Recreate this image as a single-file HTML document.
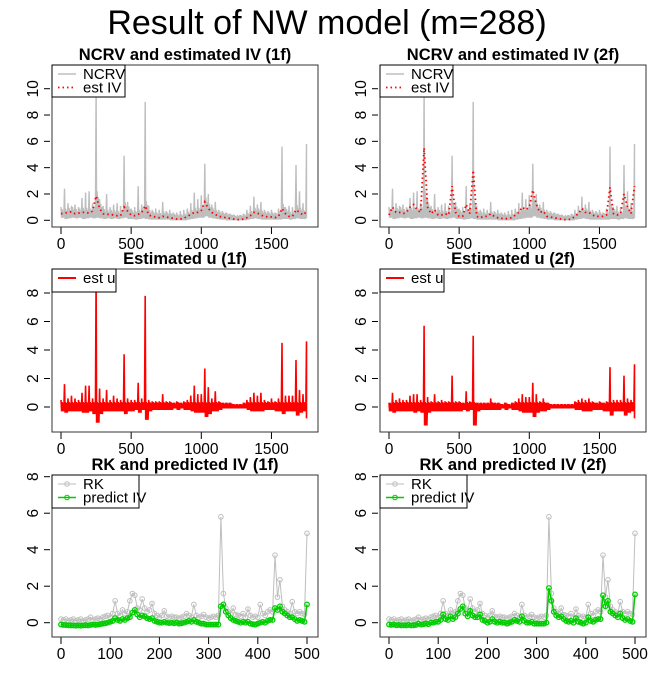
<!DOCTYPE html>
<html><head><meta charset="utf-8">
<style>
body{margin:0;background:#fff;}
svg{display:block;font-family:"Liberation Sans",sans-serif;}
</style></head>
<body>
<svg id="fig" width="654" height="681" viewBox="0 0 654 681" xmlns="http://www.w3.org/2000/svg">
<rect x="0" y="0" width="654" height="681" fill="#fff"/>
<text x="327" y="34" font-size="34" text-anchor="middle">Result of NW model (m=288)</text>
</svg>
<script>
// ---- data (x step 25 for 1750-length series, x step 5 for 500-length series) ----
const ncrvMax = [1.0,2.4,1.3,1.1,1.2,1.0,1.7,2.1,2.2,1.3, 10.0,1.6,1.1,2.0,1.0,1.2,1.3,1.1,4.9,1.4, 0.9,1.0,2.6,1.2,9.0,1.1,0.8,0.9,0.8,1.4, 0.7,0.8,0.6,0.6,0.7,0.8,0.9,1.3,2.1,1.6, 1.9,4.3,2.0,1.2,1.4,0.8,0.7,0.6,0.5,0.4, 0.3,0.4,0.5,0.8,1.1,1.8,1.2,1.4,0.8,0.7, 0.8,0.6,0.9,5.6,1.0,1.1,1.0,4.2,2.2,1.3, 5.8];
const ncrvMin = [0.2,0.1,0.15,0.2,0.15,0.2,0.1,0.15,0.2,0.15, 0.2,0.15,0.1,0.15,0.1,0.15,0.1,0.15,0.2,0.1, 0.1,0.05,0.1,0.15,0.1,0.05,0.05,0.05,0.05,0.05, 0.05,0.0,0.0,0.0,0.0,0.0,0.05,0.1,0.15,0.2, 0.2,0.3,0.2,0.15,0.1,0.05,0.05,0.0,0.0,0.0, 0.0,0.0,0.0,0.05,0.1,0.15,0.1,0.05,0.05,0.05, 0.05,0.05,0.05,0.1,0.1,0.05,0.1,0.15,0.1,0.1, 0.2];
const estIV1 = [0.5,0.55,0.6,0.65,0.5,0.55,0.6,0.6,0.55,0.7, 1.85,0.9,0.5,0.45,0.45,0.4,0.35,0.35,1.0,0.7, 0.4,0.35,0.45,0.6,1.1,0.4,0.3,0.25,0.2,0.3, 0.25,0.2,0.15,0.1,0.1,0.15,0.3,0.45,0.6,0.6, 0.75,1.4,0.9,0.6,0.45,0.3,0.25,0.2,0.15,0.1, 0.05,0.05,0.1,0.2,0.35,0.6,0.55,0.4,0.3,0.25, 0.25,0.2,0.3,0.9,0.5,0.3,0.3,0.8,0.6,0.4, 0.65];
const estIV2 = [0.4,1.0,0.6,0.6,0.5,0.6,1.0,1.2,0.8,0.6, 5.5,1.0,0.5,0.8,0.4,0.4,0.5,0.4,2.6,0.6, 0.3,0.3,1.2,0.5,3.8,0.3,0.2,0.3,0.3,0.5, 0.3,0.2,0.15,0.1,0.15,0.2,0.4,0.6,1.0,0.8, 1.0,2.3,1.2,0.6,0.7,0.3,0.25,0.2,0.15,0.1, 0.05,0.05,0.1,0.3,0.5,0.9,0.6,0.6,0.4,0.3, 0.3,0.3,0.4,2.5,0.5,0.4,0.5,2.0,1.0,0.5, 2.6];
const uHi1 = [0.5,1.6,0.6,0.8,0.6,0.5,1.0,1.5,1.5,0.6, 9.3,1.3,0.6,1.2,0.5,0.8,0.6,0.5,3.7,0.6, 0.5,0.5,1.7,0.6,7.8,0.5,0.4,0.4,0.4,0.9, 0.4,0.4,0.3,0.4,0.3,0.4,0.5,0.8,1.5,0.9, 0.9,2.7,1.4,0.6,1.1,0.4,0.3,0.3,0.3,0.2, 0.2,0.2,0.3,0.5,0.7,1.0,0.8,1.0,0.5,0.4, 0.6,0.4,0.6,4.5,0.8,0.8,0.8,3.3,1.2,0.9, 4.6];
const uLo1 = [-0.3,-0.4,-0.3,-0.3,-0.3,-0.3,-0.4,-0.4,-0.3,-0.5, -1.1,-0.5,-0.3,-0.3,-0.3,-0.3,-0.3,-0.3,-0.5,-0.3, -0.3,-0.2,-0.4,-0.2,-0.9,-0.3,-0.2,-0.2,-0.2,-0.2, -0.2,-0.2,-0.1,-0.2,-0.1,-0.2,-0.2,-0.3,-0.4,-0.4, -0.4,-0.7,-0.5,-0.3,-0.3,-0.2,-0.1,-0.1,-0.1,-0.1, -0.1,-0.1,-0.1,-0.2,-0.3,-0.3,-0.3,-0.3,-0.2,-0.2, -0.2,-0.3,-0.3,-0.5,-0.3,-0.3,-0.3,-0.6,-0.4,-0.3, -0.8];
const uHi2 = [0.3,1.0,0.5,0.6,0.5,0.5,0.8,0.9,0.9,0.5, 5.7,0.7,0.4,0.9,0.4,0.5,0.4,0.4,2.2,0.4, 0.4,0.3,1.1,0.4,5.0,0.3,0.3,0.3,0.3,0.6, 0.3,0.3,0.2,0.3,0.2,0.3,0.4,0.6,0.9,0.7, 0.7,1.7,0.9,0.4,0.6,0.3,0.2,0.2,0.2,0.2, 0.2,0.2,0.2,0.4,0.5,0.6,0.5,0.6,0.4,0.3, 0.4,0.3,0.4,2.8,0.5,0.5,0.5,2.2,0.6,0.5, 3.0];
const uLo2 = [-0.3,-0.4,-0.3,-0.3,-0.3,-0.3,-0.3,-0.4,-0.3,-0.4, -1.3,-0.4,-0.3,-0.3,-0.3,-0.3,-0.3,-0.3,-0.3,-0.3, -0.3,-0.2,-0.3,-0.2,-1.3,-0.3,-0.2,-0.2,-0.2,-0.2, -0.2,-0.2,-0.1,-0.2,-0.1,-0.2,-0.2,-0.3,-0.4,-0.4, -0.4,-0.7,-0.4,-0.3,-0.3,-0.2,-0.1,-0.1,-0.1,-0.1, -0.1,-0.1,-0.1,-0.2,-0.2,-0.3,-0.3,-0.3,-0.2,-0.2, -0.2,-0.3,-0.3,-0.6,-0.3,-0.3,-0.3,-0.6,-0.4,-0.3, -0.8];
const rk = [0.2,0.15,0.2,0.1,0.15,0.2,0.1,0.15,0.2,0.1,0.15,0.2,0.3, 0.15,0.2,0.25,0.2,0.3,0.35,0.4,0.3, 0.5,1.2,0.5,0.4,0.7,0.5,0.6,1.2,1.6,1.5,0.8,0.7,1.3,0.8,0.6,0.7,1.05,0.5,0.4,0.3, 0.4,0.65,0.35,0.3,0.35,0.3,0.3,0.25,0.3,0.35,0.5,0.4,0.3,1.0,0.4,0.3,0.35,0.45,0.3,0.25,0.3,0.35,0.3, 0.4,5.8,1.6, 0.8,0.6,0.5,0.8,0.45,0.4,0.35,0.5,0.3,0.75,0.4,0.3,0.35,0.3, 1.0,0.5,0.4,0.6,0.7,0.6,3.7,1.4,2.35,0.9,0.7,0.6,0.5,1.15,0.6,0.5,0.6,0.5,0.45,4.9];
const pred1 = [-0.1,-0.12,-0.13,-0.14,-0.15,-0.15,-0.16,-0.15,-0.16,-0.15,-0.14,-0.15,-0.12, -0.1,-0.12,-0.1,-0.08,-0.05,-0.03,0.0,0.05, 0.1,0.25,0.15,0.1,0.2,0.15,0.25,0.3,0.55,0.7,0.45,0.3,0.4,0.35,0.25,0.2,0.25,0.1,0.05,0.0, 0.0,0.05,0.0,-0.02,0.0,-0.03,0.0,-0.05,-0.03,0.0,0.05,0.1,0.05,0.15,0.05,0.0,-0.05,-0.05,-0.1,-0.1,-0.1,-0.1,-0.1, -0.1,0.9,1.0, 0.6,0.4,0.25,0.15,0.1,0.05,0.0,0.05,0.0,0.05,-0.05,-0.08,-0.1,-0.05, 0.0,0.05,0.0,0.1,0.15,0.15,0.8,0.7,0.9,0.6,0.5,0.4,0.3,0.3,0.2,0.1,0.15,0.1,0.05,1.0];
const pred2 = [-0.1,-0.12,-0.1,-0.14,-0.12,-0.15,-0.14,-0.15,-0.12,-0.15,-0.14,-0.12,-0.05, -0.1,-0.08,-0.05,-0.08,0.0,0.0,0.05,0.05, 0.15,0.45,0.2,0.15,0.35,0.2,0.3,0.5,0.75,0.9,0.5,0.35,0.65,0.4,0.3,0.3,0.45,0.15,0.1,0.0, 0.05,0.2,0.05,0.0,0.05,0.0,0.0,-0.05,0.0,0.05,0.15,0.1,0.05,0.35,0.1,0.0,0.0,0.05,-0.05,-0.05,-0.05,-0.05,-0.05, 0.0,1.9,1.2, 0.6,0.4,0.3,0.35,0.2,0.1,0.05,0.1,0.0,0.25,0.05,0.0,-0.05,0.0, 0.3,0.1,0.05,0.15,0.2,0.2,1.5,0.9,1.2,0.6,0.5,0.4,0.3,0.5,0.25,0.15,0.2,0.1,0.05,1.55];
const xTicksLong = [0,500,1000,1500];
const xTicksShort = [0,100,200,300,400,500];
const yTicks1 = [0,2,4,6,8,10];
const yTicks2 = [0,2,4,6,8];
const yTicks3 = [0,2,4,6,8];

// ---- drawing ----
const NS = "http://www.w3.org/2000/svg";
const svg = document.getElementById('fig');
function el(tag, attrs, parent){
  const e = document.createElementNS(NS, tag);
  for (const k in attrs) e.setAttribute(k, attrs[k]);
  (parent||svg).appendChild(e);
  return e;
}
function makePanel(name, left, top, bottom, x0px, xk, y0px, yk, xTicks, yTicks, title){
  const g = el('g', {});
  
  
  const right = left + 266;
  const X = v => x0px + v * xk;
  const Y = v => y0px - v * yk;
  const t = el('text', {x:(left+right)/2, y:top-5, 'font-size':16.5, 'font-weight':'bold', 'text-anchor':'middle'}, g);
  t.textContent = title;
  
  
  const plot = el('g', {}, g);
  
  
  const xa = el('g', {}, g);
  
  
  xTicks.forEach(v => {
    el('line', {x1:X(v), x2:X(v), y1:bottom, y2:bottom+7, stroke:'#000'}, xa);
    const tx = el('text', {x:X(v), y:bottom+22, 'font-size':15.5, 'text-anchor':'middle'}, xa);
    tx.textContent = v;
    
    
  });
  const ya = el('g', {}, g);
  
  
  yTicks.forEach(v => {
    el('line', {x1:left-8, x2:left-2, y1:Y(v), y2:Y(v), stroke:'#000'}, ya);
    const ty = el('text', {x:0, y:0, 'font-size':15.5, 'text-anchor':'middle', transform:`translate(${left-14},${Y(v)}) rotate(-90)`}, ya);
    ty.textContent = v;
    
    
  });
  return {g, plot, X, Y, left, right, top, bottom};
}
function frame(p){
  const r = el('rect', {x:p.left, y:p.top, width:p.right-p.left, height:p.bottom-p.top, fill:'none', stroke:'#333', 'stroke-width':1}, p.g);
  
  
}
function densePath(p, hi, lo, mid, stepU){
  let d = '';
  hi.forEach((h, i) => {
    const x = i * stepU;
    const m = mid ? mid[i] : (hi[i]+lo[i])/2;
    const pts = [[x, h], [x+4, lo[i]], [x+8, m], [x+12, lo[i]], [x+16, m*0.8], [x+20, lo[i]]];
    pts.forEach(([a,b]) => {
      if (a > 1750) a = 1750;
      d += (d ? 'L' : 'M') + p.X(a).toFixed(1) + ',' + p.Y(b).toFixed(1);
    });
  });
  return d;
}
function linePath(p, vals, stepU){
  return vals.map((v,i)=> (i?'L':'M') + p.X(i*stepU).toFixed(1) + ',' + p.Y(v).toFixed(1)).join('');
}
function legend(p, w, h, items){
  const lg = el('g', {}, p.g);
  
  
  el('rect', {x:p.left, y:p.top, width:w, height:h, fill:'#fff', stroke:'#000'}, lg);
  items.forEach((it, i) => {
    const y = p.top + 9 + i*13.5;
    const e = el('g', {}, lg);
    
    
    el('line', {x1:p.left+6, x2:p.left+24, y1:y, y2:y, stroke:it.color, 'stroke-width':it.w||1.5, 'stroke-dasharray':it.dash||'none'}, e);
    if (it.pt) el('circle', {cx:p.left+15, cy:y, r:2.3, fill:'none', stroke:it.color}, e);
    const t = el('text', {x:p.left+31, y:y+5, 'font-size':15}, e);
    t.textContent = it.label;
  });
}

const cols = [0, 328];
const ivSeries = [estIV1, estIV2];
const uHi = [uHi1, uHi2], uLo = [uLo1, uLo2];
const preds = [pred1, pred2];
['1f','2f'].forEach((tag, c) => {
  const L = 52 + cols[c], x0 = 61 + cols[c];
  const p1 = makePanel('ncrv-panel-'+tag, L, 65, 227, x0, 0.1403, 220.3, 13.16, xTicksLong, yTicks1, 'NCRV and estimated IV ('+tag+')');
  const nc = el('path', {d:densePath(p1, ncrvMax, ncrvMin, ivSeries[0].map(v=>v+0.35), 25), fill:'none', stroke:'#bebebe', 'stroke-width':1.4}, p1.plot);
  
  
  const iv = el('path', {d:linePath(p1, ivSeries[c], 25), fill:'none', stroke:'#ff0000', 'stroke-width':1.8, 'stroke-dasharray':'1.5,3'}, p1.plot);
  
  
  frame(p1);
  legend(p1, 73, 32, [{label:'NCRV', color:'#bebebe'}, {label:'est IV', color:'#ff0000', dash:'1.5,3', w:1.8}]);
  const p2 = makePanel('est-u-panel-'+tag, L, 269, 432, x0, 0.1403, 407, 14.25, xTicksLong, yTicks2, 'Estimated u ('+tag+')');
  const ul = el('path', {d:densePath(p2, uHi[c], uLo[c], uHi[c].map(v=>Math.min(v,0.35)), 25), fill:'none', stroke:'#ff0000', 'stroke-width':1.6}, p2.plot);
  
  
  frame(p2);
  legend(p2, 64, 23, [{label:'est u', color:'#ff0000', w:2}]);
  const p3 = makePanel('rk-panel-'+tag, L, 475, 637, x0, 0.492, 622.7, 18.25, xTicksShort, yTicks3, 'RK and predicted IV ('+tag+')');
  const rl = el('path', {d:linePath(p3, rk, 5), fill:'none', stroke:'#bebebe', 'stroke-width':1}, p3.plot);
  
  
  rk.forEach((v,i) => {
    const cc = el('circle', {cx:p3.X(i*5), cy:p3.Y(v), r:2.3, fill:'none', stroke:'#bebebe'}, p3.plot);
    
    
  });
  const pl = el('path', {d:linePath(p3, preds[c], 5), fill:'none', stroke:'#00cc00', 'stroke-width':1.5}, p3.plot);
  
  
  preds[c].forEach((v,i) => {
    const cc = el('circle', {cx:p3.X(i*5), cy:p3.Y(v), r:2.3, fill:'none', stroke:'#00cc00', 'stroke-width':1.3}, p3.plot);
    
    
  });
  frame(p3);
  legend(p3, 87, 33, [{label:'RK', color:'#bebebe', pt:true, w:1}, {label:'predict IV', color:'#00cc00', pt:true, w:1.5}]);
});
</script>
</body></html>
